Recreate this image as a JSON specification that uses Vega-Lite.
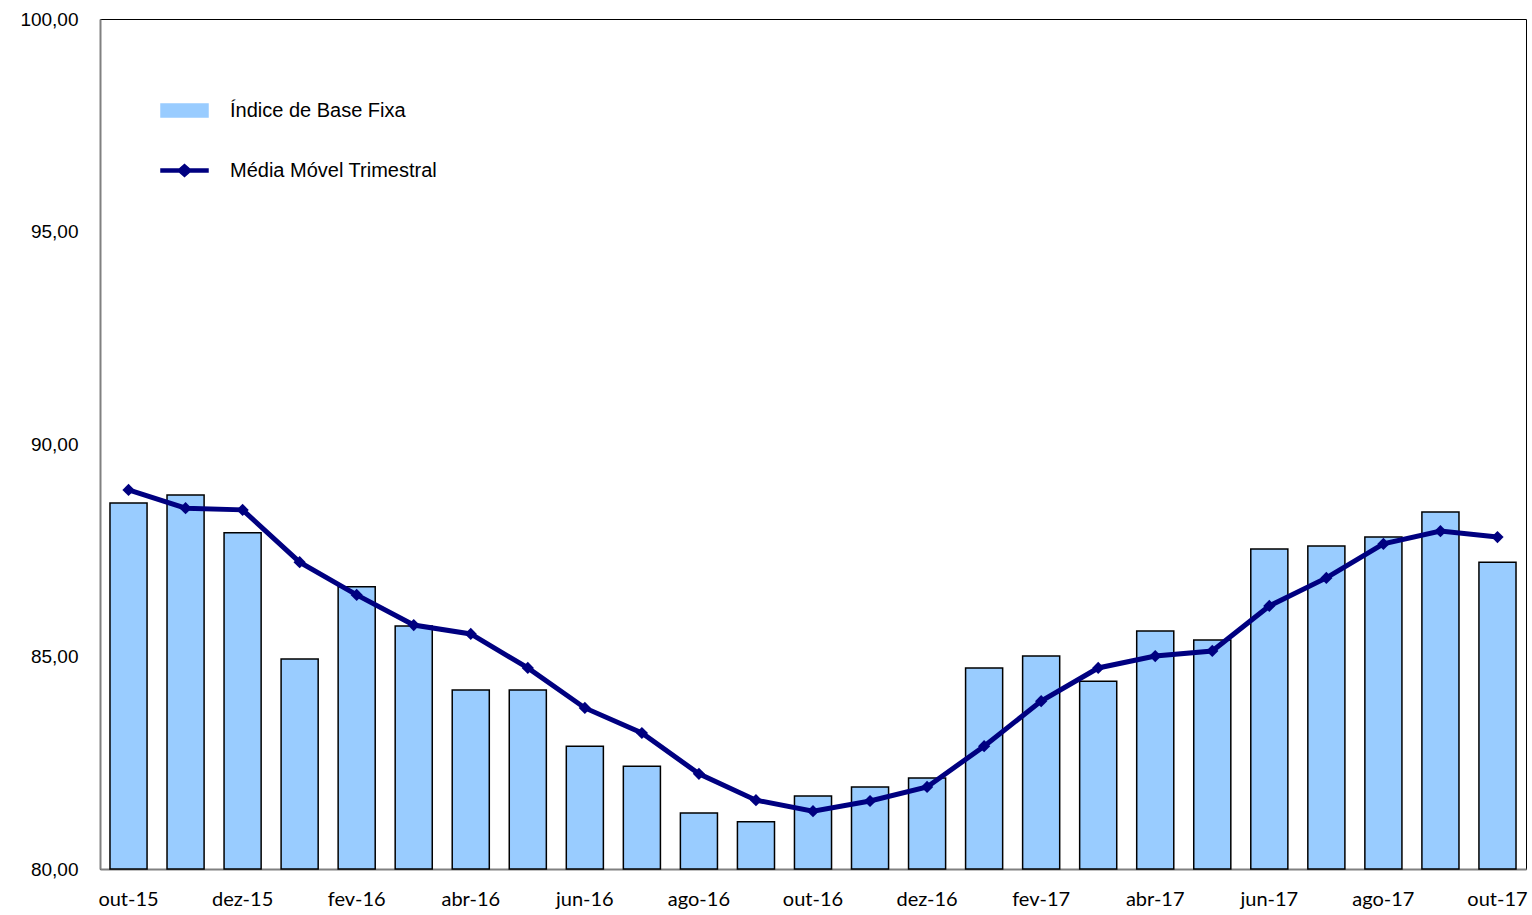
{
  "$schema": "https://vega.github.io/schema/vega-lite/v6.json",
  "width": 1426,
  "height": 850,
  "autosize": "none",
  "padding": {"left": 100, "top": 19, "right": 6, "bottom": 46},
  "background": "white",
  "config": {
    "view": {"stroke": "#000000", "strokeWidth": 1},
    "axis": {"domainColor": "#808080", "domainWidth": 2, "grid": false, "ticks": false},
    "legend": {
      "title": null,
      "orient": "none",
      "legendX": 60,
      "legendY": 67,
      "padding": 0,
      "rowPadding": 25,
      "symbolSize": 2209,
      "labelOffset": 21,
      "labelLimit": 0,
      "labelFont": "Liberation Sans",
      "labelFontSize": 20,
      "labelColor": "#000000",
      "symbolStrokeWidth": 1.5,
      "symbolOpacity": 1
    }
  },
  "data": {
    "values": [
      {"mes": "out-15", "indice": 88.61, "media": 88.92},
      {"mes": "nov-15", "indice": 88.80, "media": 88.49},
      {"mes": "dez-15", "indice": 87.91, "media": 88.45},
      {"mes": "jan-16", "indice": 84.94, "media": 87.22},
      {"mes": "fev-16", "indice": 86.64, "media": 86.45},
      {"mes": "mar-16", "indice": 85.72, "media": 85.74},
      {"mes": "abr-16", "indice": 84.21, "media": 85.53},
      {"mes": "mai-16", "indice": 84.21, "media": 84.73},
      {"mes": "jun-16", "indice": 82.89, "media": 83.79},
      {"mes": "jul-16", "indice": 82.42, "media": 83.20},
      {"mes": "ago-16", "indice": 81.32, "media": 82.24},
      {"mes": "set-16", "indice": 81.11, "media": 81.62},
      {"mes": "out-16", "indice": 81.72, "media": 81.36},
      {"mes": "nov-16", "indice": 81.93, "media": 81.60},
      {"mes": "dez-16", "indice": 82.14, "media": 81.93},
      {"mes": "jan-17", "indice": 84.73, "media": 82.89},
      {"mes": "fev-17", "indice": 85.01, "media": 83.95},
      {"mes": "mar-17", "indice": 84.42, "media": 84.73},
      {"mes": "abr-17", "indice": 85.60, "media": 85.01},
      {"mes": "mai-17", "indice": 85.39, "media": 85.13},
      {"mes": "jun-17", "indice": 87.53, "media": 86.19},
      {"mes": "jul-17", "indice": 87.60, "media": 86.85},
      {"mes": "ago-17", "indice": 87.81, "media": 87.65},
      {"mes": "set-17", "indice": 88.40, "media": 87.95},
      {"mes": "out-17", "indice": 87.22, "media": 87.81}
    ]
  },
  "encoding": {
    "x": {
      "field": "mes",
      "type": "ordinal",
      "sort": null,
      "scale": {"paddingInner": 0.35, "paddingOuter": 0.175},
      "axis": {
        "title": null,
        "labelAngle": 0,
        "labelFont": "Lato",
        "labelFontSize": 20,
        "labelColor": "#000000",
        "labelPadding": 20,
        "values": ["out-15", "dez-15", "fev-16", "abr-16", "jun-16", "ago-16", "out-16", "dez-16", "fev-17", "abr-17", "jun-17", "ago-17", "out-17"]
      }
    }
  },
  "layer": [
    {
      "mark": {"type": "bar", "stroke": "#000000", "strokeWidth": 1.5, "opacity": 1},
      "encoding": {
        "y": {
          "field": "indice",
          "type": "quantitative",
          "scale": {"domain": [80, 100], "zero": false, "nice": false},
          "axis": {
            "title": null,
            "values": [80, 85, 90, 95, 100],
            "labelExpr": "replace(format(datum.value, '.2f'), '.', ',')",
            "labelFont": "Liberation Sans",
            "labelFontSize": 19,
            "labelColor": "#000000",
            "labelPadding": 22
          }
        },
        "y2": {"datum": 80},
        "color": {
          "datum": "Índice de Base Fixa",
          "scale": {"domain": ["Índice de Base Fixa", "Média Móvel Trimestral"], "range": ["#99CCFF", "#000080"]},
          "legend": {
            "symbolType": {"expr": "datum.value === 'Índice de Base Fixa' ? 'M-1,-0.28H1V0.28H-1Z' : 'M-1,-0.06H-0.22L0,-0.26L0.22,-0.06H1V0.06H0.22L0,0.26L-0.22,0.06H-1Z'"},
            "symbolFillColor": {"expr": "datum.value === 'Índice de Base Fixa' ? '#99CCFF' : '#000080'"},
            "symbolStrokeColor": {"expr": "datum.value === 'Índice de Base Fixa' ? '#000000' : '#000080'"},
            "encode": {
              "symbols": {
                "update": {
                  "stroke": {"condition": {"test": "datum.value === 'Índice de Base Fixa'", "value": "#000000"}, "value": "#000080"},
                  "strokeWidth": {"value": 1.5}
                }
              }
            }
          }
        }
      }
    },
    {
      "mark": {"type": "line", "strokeWidth": 5, "point": {"shape": "diamond", "size": 150, "filled": true}},
      "encoding": {
        "y": {"field": "media", "type": "quantitative"},
        "color": {
          "datum": "Média Móvel Trimestral",
          "legend": {
            "symbolType": {"expr": "datum.value === 'Índice de Base Fixa' ? 'M-1,-0.28H1V0.28H-1Z' : 'M-1,-0.06H-0.22L0,-0.26L0.22,-0.06H1V0.06H0.22L0,0.26L-0.22,0.06H-1Z'"},
            "symbolFillColor": {"expr": "datum.value === 'Índice de Base Fixa' ? '#99CCFF' : '#000080'"},
            "symbolStrokeColor": {"expr": "datum.value === 'Índice de Base Fixa' ? '#000000' : '#000080'"},
            "encode": {
              "symbols": {
                "update": {
                  "stroke": {"condition": {"test": "datum.value === 'Índice de Base Fixa'", "value": "#000000"}, "value": "#000080"},
                  "strokeWidth": {"value": 1.5}
                }
              }
            }
          }
        }
      }
    }
  ]
}
